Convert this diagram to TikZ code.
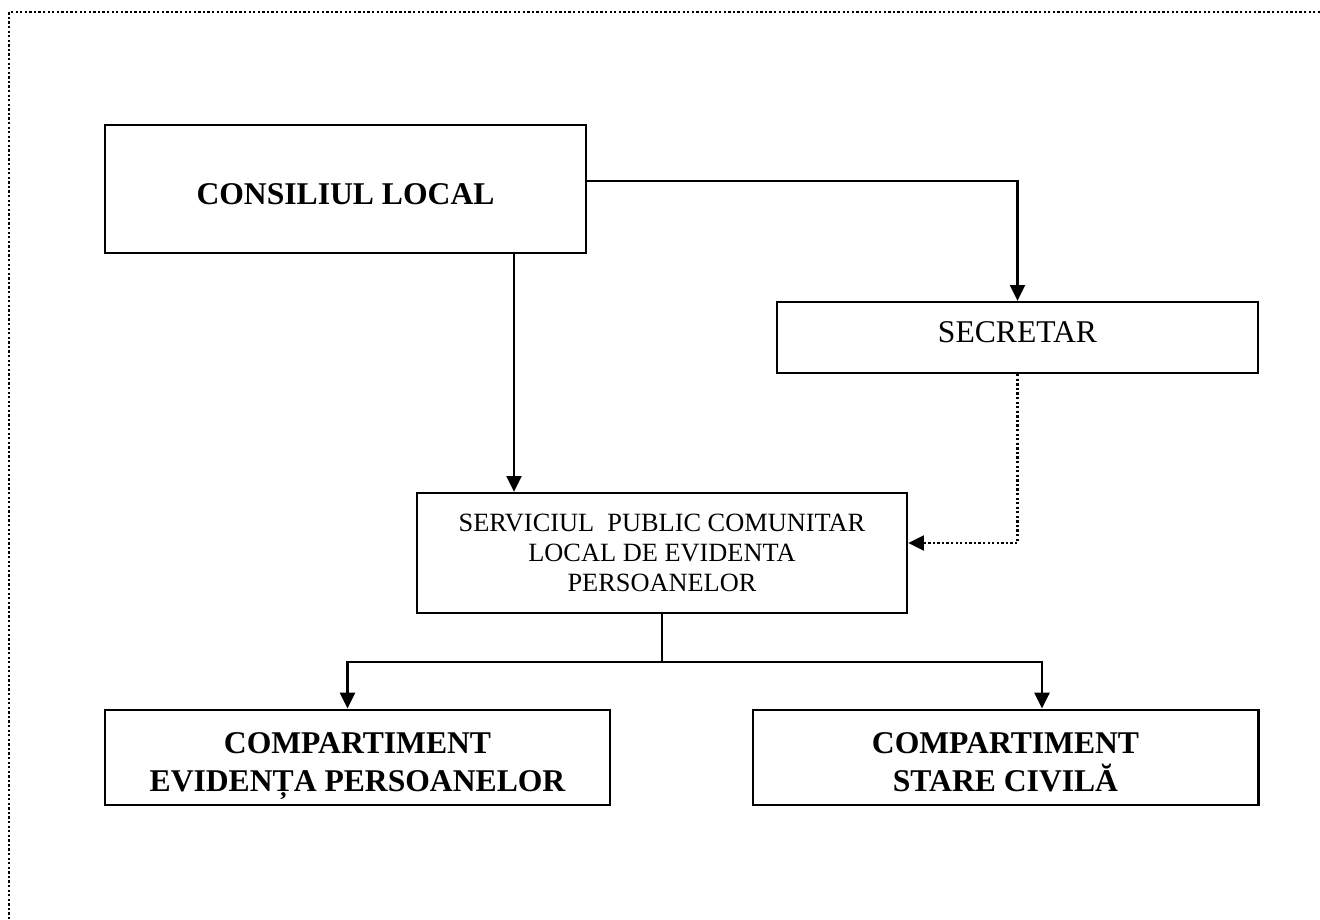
\documentclass[tikz,border=0pt]{standalone}
\usepackage{fontspec}
\setmainfont{Liberation Serif}
\usepackage{tikz}
\usetikzlibrary{arrows.meta,positioning,calc}

\begin{document}
\begin{tikzpicture}[
  every node/.style={font=\fontsize{18}{21}\selectfont},
  box/.style={draw,line width=1.3pt,minimum width=9.62cm,align=center,inner sep=0pt},
  bigbox/.style={draw,line width=1.7pt,minimum width=10.1cm,minimum height=1.9cm,align=center,inner sep=0pt,font=\bfseries\fontsize{18}{21.6}\selectfont},
  link/.style={line width=1.3pt,-{Triangle[length=9pt,width=8.5pt]}},
  dots/.style={dash pattern=on 1.3pt off 1.3pt}]
  \useasboundingbox (0,0) rectangle (26.4,-18.4);
  % page frame: only top and left edges show
  \draw[line width=1.3pt,dots] (26.4,-0.24) -- (0.18,-0.24) -- (0.18,-18.4);
  % boxes
  \node[box,minimum height=2.56cm,text height=17.6pt,text depth=0pt,font=\bfseries\fontsize{18}{21}\selectfont] (consiliu) at (6.91,-3.78) {CONSILIUL LOCAL};
  \node[box,minimum height=1.42cm,text height=11.9pt,text depth=5.7pt] (secretar) at (20.35,-6.75) {SECRETAR};
  \node[box,minimum width=9.8cm,minimum height=2.4cm,font=\fontsize{15}{17}\selectfont] (serviciu) at (13.24,-11.06)
    {SERVICIUL\ \ PUBLIC COMUNITAR\\LOCAL DE EVIDENTA\\PERSOANELOR};
  \node[bigbox] (evidenta) at (7.15,-15.15) {\rule{0pt}{17pt}COMPARTIMENT\\\smash{EVIDENȚA} PERSOANELOR};
  \node[bigbox] (stare) at (20.11,-15.15) {\rule{0pt}{17pt}COMPARTIMENT\\STARE CIVILĂ};
  % connectors
  \draw[link] ([yshift=0.16cm]consiliu.east) -| (secretar.north);
  \draw[link] ([xshift=3.37cm]consiliu.south) -- ([xshift=3.37cm]consiliu.south |- serviciu.north);
  \draw[link,dots] (secretar.south) |- ([yshift=0.2cm]serviciu.east);
  \draw[line width=1.3pt] (serviciu.south) -- ++(0,-0.96) coordinate (fork);
  \draw[link] (fork) -| ([xshift=-0.2cm]evidenta.north);
  \draw[link] (fork) -| ([xshift=0.73cm]stare.north);
\end{tikzpicture}
\end{document}
